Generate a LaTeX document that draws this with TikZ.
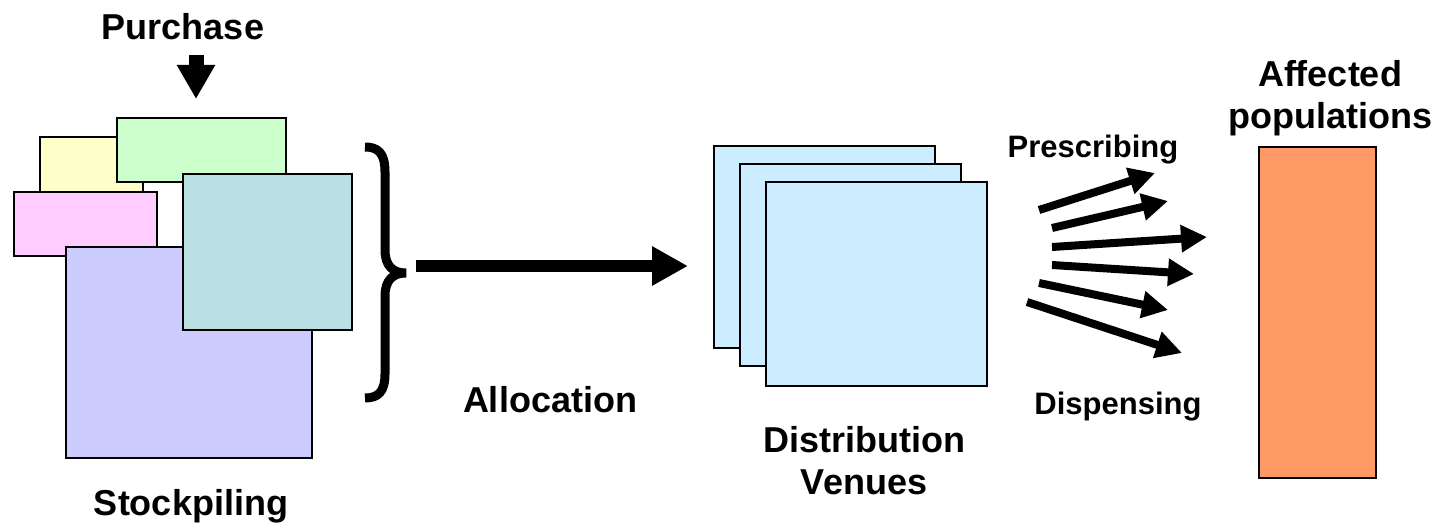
\documentclass[tikz,border=0pt]{standalone}
\usepackage{fontspec}
\setmainfont{Liberation Sans}
\usetikzlibrary{arrows.meta}
\begin{document}
\begin{tikzpicture}[x=1pt,y=-1pt,
  box/.style={draw=black,line width=2pt},
  lbl/.style={font=\bfseries\fontsize{36}{40}\selectfont,inner sep=0pt,align=center},
  slbl/.style={font=\bfseries\fontsize{31}{36}\selectfont,inner sep=0pt},
  fan/.style={line width=8pt,-{Triangle[length=26pt,width=26pt]}},
  bigarrow/.style={line width=12pt,-{Triangle[length=36pt,width=37pt]}}]
\useasboundingbox (0,0) rectangle (1437,529);
% stockpiling boxes
\draw[box,fill={rgb,255:red,255;green,255;blue,204}] (40,137) rectangle (143,200);
\draw[box,fill={rgb,255:red,204;green,255;blue,204}] (117,118) rectangle (286,182);
\draw[box,fill={rgb,255:red,255;green,204;blue,255}] (14,192) rectangle (157,256);
\draw[box,fill={rgb,255:red,204;green,204;blue,255}] (66,247) rectangle (312,458);
\draw[box,fill={rgb,255:red,187;green,224;blue,227}] (183,174) rectangle (352,330);
% brace
\draw[line width=9pt] (365,147) .. controls (378,147) and (385,153) .. (385,172)
  -- (385,250) .. controls (385,266) and (393,273) .. (406,273)
  .. controls (393,273) and (385,280) .. (385,296)
  -- (385,374) .. controls (385,392) and (378,398) .. (365,398);
% distribution venues
\draw[box,fill={rgb,255:red,204;green,236;blue,255}] (714,146) rectangle (935,348);
\draw[box,fill={rgb,255:red,204;green,236;blue,255}] (740,164) rectangle (961,366);
\draw[box,fill={rgb,255:red,204;green,236;blue,255}] (766,182) rectangle (987,386);
% affected populations
\draw[box,fill={rgb,255:red,255;green,153;blue,102}] (1259,147) rectangle (1376,478);
% labels
\node[lbl] (purchase) at (183,27) {Purchase};
\node[lbl] (stock) at (191,506) {Stockpiling};
\node[lbl] (alloc) at (550,400) {Allocation};
\node[lbl] (dist) at (864,461) {Distribution\\[2pt]Venues};
\node[slbl] (presc) at (1093,150) {Prescribing};
\node[slbl] (disp) at (1118,407) {Dispensing};
\node[lbl] (affected) at (1330,98) {Affected\\[2pt]populations};
% arrows
\coordinate (pa) at (196,55);
\coordinate (pb) at (196,99);
\draw[line width=15pt,-{Triangle[length=34pt,width=36pt]}] (pa) -- (pb);
\coordinate (aa) at (416,266);
\coordinate (ab) at (688,266);
\draw[bigarrow] (aa) -- (ab);
\coordinate (s1) at (1039,210); \coordinate (e1) at (1155,173);
\coordinate (s2) at (1052,228); \coordinate (e2) at (1168,201);
\coordinate (s3) at (1052,247); \coordinate (e3) at (1207,237);
\coordinate (s4) at (1052,265); \coordinate (e4) at (1194,274);
\coordinate (s5) at (1039,283); \coordinate (e5) at (1168,310);
\coordinate (s6) at (1027,302); \coordinate (e6) at (1182,353);
\foreach \i in {1,...,6} \draw[fan] (s\i) -- (e\i);
\end{tikzpicture}
\end{document}
